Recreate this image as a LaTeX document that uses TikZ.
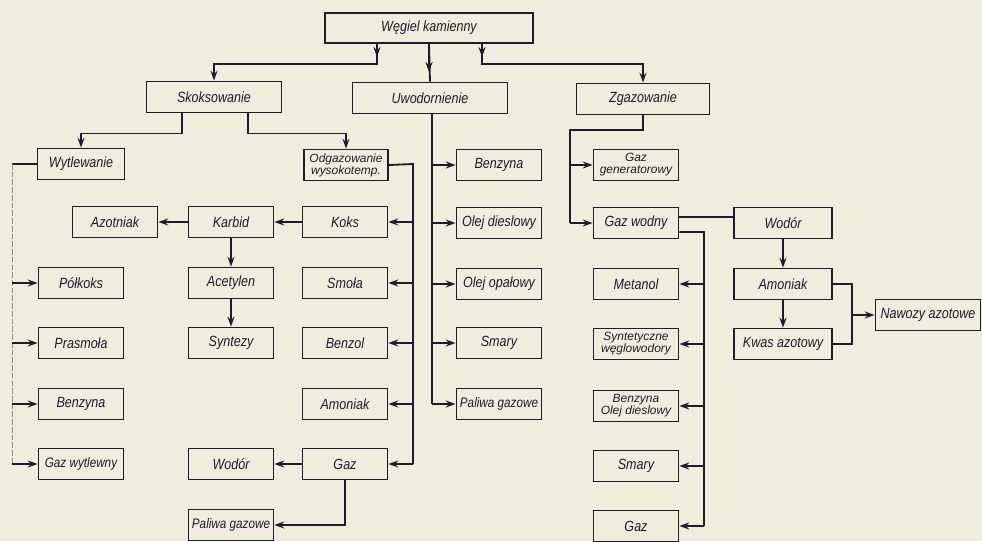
\documentclass[tikz,border=0pt]{standalone}
\usepackage{fontspec}
\setsansfont[FakeStretch=0.85]{Liberation Sans}
\newfontfamily\twolinefont{Liberation Sans}
\usepackage{tikz}
\usetikzlibrary{arrows.meta}
\definecolor{paper}{HTML}{F0EDDC}
\definecolor{ink}{HTML}{1A1D2B}
\definecolor{railline}{HTML}{8E8E86}

\tikzset{
  box/.style={draw=ink,line width=1.3pt,minimum width=2.125cm,minimum height=0.775cm,
    inner sep=1pt,text=ink,font=\sffamily\itshape\fontsize{10.5}{10.5}\selectfont},
  tightbox/.style={box,inner xsep=0pt,font=\sffamily\itshape\fontsize{9.8}{9.8}\selectfont},
  twoline/.style={box,align=center,font=\twolinefont\itshape\fontsize{8.5}{8.5}\selectfont},
  link/.style={draw=ink,line width=1.3pt},
  flow/.style={link,-{Stealth[length=7pt,width=5pt]}},
}

\begin{document}
\begin{tikzpicture}[x=0.025cm,y=-0.025cm]
        \fill[paper] (0,0) rectangle (982,541);
        \useasboundingbox (0,0) rectangle (982,541);

        % top level
        \node[box,minimum width=5.2cm,minimum height=0.75cm] (wegiel) at (429,28) {Węgiel kamienny};
        \node[box,minimum width=3.375cm] (skok) at (214,97) {Skoksowanie};
        \node[box,minimum width=3.875cm] (uwod) at (430,98) {Uwodornienie};
        \node[box,minimum width=3.325cm] (zgaz) at (643,99) {Zgazowanie};

        % products
        \node[box,minimum width=2.175cm] (wytl) at (81,164) {Wytlewanie};
        \node[twoline,minimum width=2.1cm] (odgaz) at (346,165) {Odgazowanie\\wysokotemp.};
        \node[box] (benzM) at (499,165) {Benzyna};
        \node[twoline] (gazgen) at (636,165) {Gaz\\generatorowy};

        \node[box] (azot) at (115,222) {Azotniak};
        \node[box] (karbid) at (231,222) {Karbid};
        \node[box] (koks) at (345,222) {Koks};
        \node[box] (olejd) at (499,223) {Olej dieslowy};
        \node[box] (gazw) at (636,223) {Gaz wodny};
        \node[box,minimum width=2.45cm] (wodorR) at (783,223) {Wodór};

        \node[box] (polkoks) at (81,283) {Półkoks};
        \node[box] (acet) at (231,283) {Acetylen};
        \node[box] (smola) at (345,283) {Smoła};
        \node[box] (olejo) at (499,284) {Olej opałowy};
        \node[box] (metanol) at (636,284) {Metanol};
        \node[box,minimum width=2.45cm] (amonR) at (783,284) {Amoniak};
        \node[box,minimum width=2.625cm] (nawozy) at (928,315) {Nawozy azotowe};

        \node[box] (prasm) at (81,343) {Prasmoła};
        \node[box] (synt) at (231,343) {Syntezy};
        \node[box] (benzol) at (345,343) {Benzol};
        \node[box] (smaryM) at (499,343) {Smary};
        \node[twoline] (syntw) at (636,344) {Syntetyczne\\węglowodory};
        \node[box,minimum width=2.45cm] (kwas) at (783,344) {Kwas azotowy};

        \node[box] (benzL) at (81,404) {Benzyna};
        \node[box] (amonM) at (345,404) {Amoniak};
        \node[tightbox] (paliwM) at (499,404) {Paliwa gazowe};
        \node[twoline] (benzold) at (636,406) {Benzyna\\Olej dieslowy};

        \node[tightbox] (gazwyt) at (81,464) {Gaz wytlewny};
        \node[box] (wodorL) at (231,464) {Wodór};
        \node[box] (gazL) at (345,464) {Gaz};
        \node[box] (smaryR) at (636,466) {Smary};

        \node[tightbox] (paliwL) at (231,525) {Paliwa gazowe};
        \node[box] (gazR) at (636,526) {Gaz};

        % from the coal
        \draw[flow] ([xshift=-1.3cm]wegiel.south) -- ++(0,13);
        \draw[flow] ([xshift=-1.3cm]wegiel.south) -- ++(0,20) -| (skok.north);
        \draw[link] (wegiel.south) -- (uwod.north);
        \draw[flow] (wegiel.south) -- ++(0,28);
        \draw[flow] ([xshift=1.325cm]wegiel.south) -- ++(0,13);
        \draw[flow] ([xshift=1.325cm]wegiel.south) -- ++(0,20) -| (zgaz.north);

        % coking
        \draw[flow] ([xshift=-0.8cm]skok.south) -- ++(0,20) -| (wytl.north);
        \draw[flow] ([xshift=0.85cm]skok.south) -- ++(0,20) -| (odgaz.north);

        \coordinate (railL) at (12,164);
        \draw[link] (wytl.west) -- (wytl.west -| railL);
        \draw[railline,line width=0.6pt,dash pattern=on 4pt off 1.5pt] (wytl.west -| railL) -- (gazwyt.west -| railL);
        \foreach \n in {polkoks,prasm,benzL,gazwyt}{
                \draw[flow] (\n.west -| railL) -- (\n.west);
            }

        \coordinate (trunkA) at (413,164);
        \draw[link] (odgaz.east) -- (trunkA) -- (gazL.east -| trunkA);
        \foreach \n in {koks,smola,benzol,amonM,gazL}{
                \draw[flow] (\n.east -| trunkA) -- (\n.east);
            }
        \draw[flow] (koks) -- (karbid);
        \draw[flow] (karbid) -- (azot);
        \draw[flow] (karbid) -- (acet);
        \draw[flow] (acet) -- (synt);
        \draw[flow] (gazL) -- (wodorL);
        \draw[flow] (gazL.south) |- (paliwL.east);

        % hydrogenation
        \coordinate (trunkB) at (432,164);
        \draw[link] (uwod.south -| trunkB) -- (paliwM.west -| trunkB);
        \foreach \n in {benzM,olejd,olejo,smaryM,paliwM}{
                \draw[flow] (\n.west -| trunkB) -- (\n.west);
            }

        % gasification
        \coordinate (trunkC) at (570,130);
        \draw[link] (zgaz.south) |- (trunkC) -- (gazw.west -| trunkC);
        \draw[flow] (gazgen.west -| trunkC) -- (gazgen.west);
        \draw[flow] (gazw.west -| trunkC) -- (gazw.west);

        \coordinate (trunkD) at (704,232);
        \draw[link] ([yshift=-0.225cm]gazw.east) -- (trunkD) -- (gazR.east -| trunkD);
        \foreach \n in {metanol,syntw,benzold,smaryR,gazR}{
                \draw[flow] (\n.east -| trunkD) -- (\n.east);
            }
        \draw[link] ([yshift=0.15cm]gazw.east) -- ([yshift=0.15cm]wodorR.west);
        \draw[flow] (wodorR) -- (amonR);
        \draw[flow] (amonR) -- (kwas);

        \coordinate (trunkE) at (852,315);
        \draw[link] (amonR.east) -| (trunkE) |- (kwas.east);
        \draw[flow] (trunkE) -- (nawozy.west);
    \end{tikzpicture}
\end{document}
